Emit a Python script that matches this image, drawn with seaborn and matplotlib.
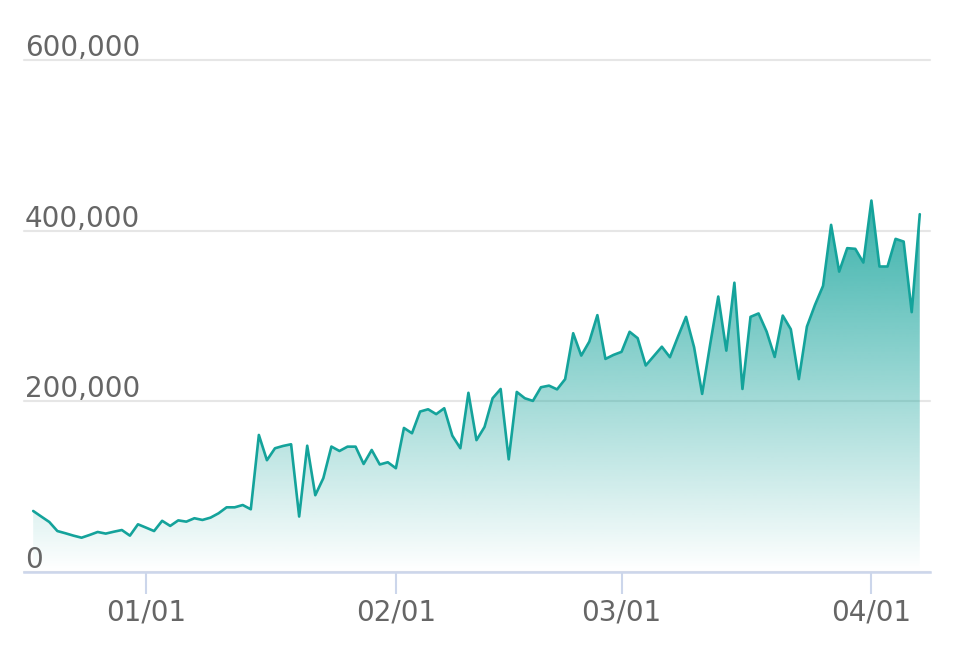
import numpy as np
import pandas as pd
import matplotlib
matplotlib.use("Agg")
import matplotlib.pyplot as plt
import matplotlib.dates as mdates
import seaborn as sns

# ---- data (values in thousands) ----
start_date = "2021-12-18"
values_k = [
    71.5, 65, 58.6, 48, 45.4, 42.6, 40.2, 43.4, 46.9, 45,
    47.2, 49.2, 42.6, 55.9, 52, 48, 60, 54, 60.5, 59,
    63, 61, 63.7, 68.8, 75.8, 75.8, 78.5, 73.5, 160.6, 131,
    145, 147.7, 149.7, 65, 148, 90, 110, 147, 141.8, 146.9,
    146.9, 126.6, 143, 126, 128.6, 121.6, 168.8, 162.6, 188, 190.7,
    185, 191.9, 159.8, 145, 210, 154.5, 170, 203.6, 214.5, 132,
    211, 203.6, 200.5, 216.5, 218.4, 214, 226, 279.8, 253.6, 270,
    301, 249.7, 254.4, 258, 281.5, 274, 242, 253, 264, 251.7,
    275.8, 299, 263.4, 208.7, 267, 322.8, 259.4, 339, 214.5, 299,
    303, 281.7, 252, 300.5, 284.5, 226, 287.6, 313, 335.3, 406.8,
    352, 379.5, 378.7, 362.6, 435.3, 358, 358, 390.4, 387.2, 304.5,
    419.3,
]
x_tick_dates = ["2022-01-01", "2022-02-01", "2022-03-01", "2022-04-01"]
y_ticks = [0, 200000, 400000, 600000]

LINE = "#14a39b"
TEXT = "#666666"

dates = pd.date_range(start_date, periods=len(values_k), freq="D")
df = pd.DataFrame({"date": dates, "value": np.array(values_k) * 1000.0})

sns.set_theme(style="white")
plt.rcParams["font.family"] = ["DejaVu Sans"]

fig = plt.figure(figsize=(9.6, 6.48), dpi=100)
ax = fig.add_axes([24 / 960, 76 / 648, 906 / 960, 512 / 648])

sns.lineplot(data=df, x="date", y="value", color=LINE, linewidth=1.9,
             ax=ax, zorder=4)

# gradient area fill
xnum = mdates.date2num(df["date"])
poly = ax.fill_between(df["date"], 0, df["value"], color="none", lw=0)
vmax = df["value"].max()
n = 256
alpha = np.linspace(0.0, 0.85, n)
rgb = matplotlib.colors.to_rgb(LINE)
grad = np.zeros((n, 1, 4))
grad[..., 0], grad[..., 1], grad[..., 2] = rgb
grad[:, 0, 3] = alpha
img = ax.imshow(grad, extent=[xnum[0], xnum[-1], 0, vmax], origin="lower",
                aspect="auto", zorder=2, interpolation="bilinear")
img.set_clip_path(poly.get_paths()[0], ax.transData)

# axes limits
ax.set_xlim(xnum[0] - 1.14, xnum[-1] + 1.27)
ax.set_ylim(0, 600000)

# x ticks
ax.set_xticks(pd.to_datetime(x_tick_dates))
ax.xaxis.set_major_formatter(mdates.DateFormatter("%m/%d"))
ax.tick_params(axis="x", length=16, width=1.5, color="#ccd6eb", pad=3,
               labelsize=20, labelcolor=TEXT, bottom=True)

# y grid and labels inside the plot
ax.set_yticks(y_ticks)
ax.tick_params(axis="y", length=0, labelleft=False)
ax.yaxis.grid(True, color="#e6e6e6", linewidth=1.5)
ax.xaxis.grid(False)
ax.set_axisbelow(True)
for gl in ax.get_ygridlines():
    gl.set_clip_on(False)
for v in y_ticks:
    ax.annotate(f"{v:,}", xy=(0, v), xycoords=("axes fraction", "data"),
                xytext=(0.5, 3), textcoords="offset points", ha="left",
                va="baseline", fontsize=20, color=TEXT, zorder=5)

for s in ["top", "right", "left"]:
    ax.spines[s].set_visible(False)
ax.spines["bottom"].set_color("#ccd6eb")
ax.spines["bottom"].set_linewidth(1.8)
ax.spines["bottom"].set_zorder(6)

ax.set_xlabel("")
ax.set_ylabel("")
if ax.get_legend() is not None:
    ax.get_legend().remove()

fig.savefig("out.png", dpi=100, facecolor="white")
